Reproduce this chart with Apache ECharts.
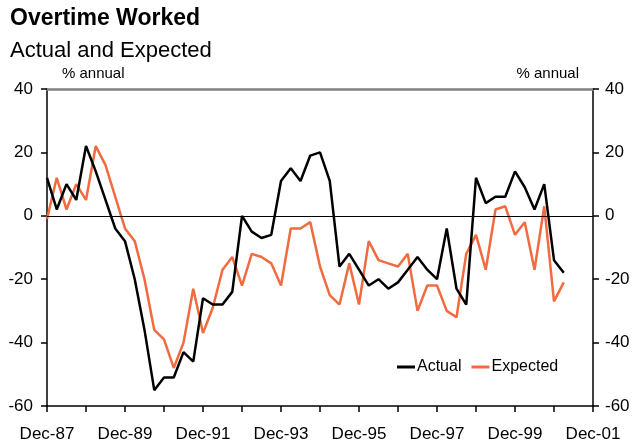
<!DOCTYPE html>
<html lang="en">
<head>
    <meta charset="UTF-8">
    <title>Overtime Worked</title>
    <script src="https://cdn.jsdelivr.net/npm/echarts@6/dist/echarts.min.js"></script>
    <style>
        html, body { margin: 0; padding: 0; background: #fff; }
        #main { width: 633px; height: 443px; }
    </style>
</head>
<body>
<div id="main"></div>
<script>
    // quarterly, Dec-87 .. Mar-01
    let actual = [12, 2, 10, 5, 22, 14, 5, -4, -8, -20, -36, -55, -51, -51, -43, -46, -26, -28, -28, -24,
        0, -5, -7, -6, 11, 15, 11, 19, 20, 11, -16, -12, -17, -22, -20, -23, -21, -17, -13, -17,
        -20, -4, -23, -28, 12, 4, 6, 6, 14, 9, 2, 10, -14, -18];
    let expected = [-1, 12, 2, 10, 5, 22, 16, 6, -4, -8, -20, -36, -39, -48, -40, -23, -37, -29, -17, -13,
        -22, -12, -13, -15, -22, -4, -4, -2, -16, -25, -28, -15, -28, -8, -14, -15, -16, -12, -30, -22,
        -22, -30, -32, -12, -6, -17, 2, 3, -6, -2, -17, 3, -27, -21];
    let firstYear = 1987, lastYear = 2001;
    let yTicks = [-60, -40, -20, 0, 20, 40];

    // category list: one entry per quarter from Dec of firstYear to Dec of lastYear
    let quarters = [];
    let mons = ['Dec', 'Mar', 'Jun', 'Sep'];
    for (let i = 0; i <= (lastYear - firstYear) * 4; i++) {
        let yr = firstYear + Math.ceil(i / 4);
        quarters.push(mons[i % 4] + '-' + String(yr % 100).padStart(2, '0'));
    }

    let myChart = echarts.init(document.getElementById('main'));
    let font = 'Arial, "Liberation Sans", sans-serif';

    let option = {
        animation: false,
        textStyle: {fontFamily: font},
        title: [
            {text: 'Overtime Worked', left: 5, top: 2, textStyle: {fontSize: 23, fontWeight: 'bold', color: '#000', fontFamily: font}},
            {text: 'Actual and Expected', left: 5, top: 35, textStyle: {fontSize: 22, fontWeight: 'normal', color: '#000', fontFamily: font}}
        ],
        graphic: [
            {type: 'text', left: 62, top: 66, style: {text: '% annual', fontSize: 15, fill: '#000', fontFamily: font}},
            {type: 'text', right: 54, top: 66, style: {text: '% annual', fontSize: 15, fill: '#000', fontFamily: font}}
        ],
        legend: {
            data: ['Actual', 'Expected'],
            left: 392, top: 354,
            itemWidth: 18, itemHeight: 3, itemGap: 10,
            icon: 'rect',
            textStyle: {fontSize: 16, color: '#000', fontFamily: font, padding: [0, 0, 0, -3]}
        },
        grid: {left: 47, right: 40, top: 89, height: 321},
        xAxis: [
            {
                type: 'category',
                data: quarters,
                boundaryGap: false,
                position: 'bottom',
                axisLine: {onZero: false, lineStyle: {color: '#000', width: 1.5}},
                axisTick: {length: 6, lineStyle: {color: '#000', width: 1.5}, interval: function (i) { return i % 4 === 0; }},
                axisLabel: {
                    interval: function (i) { return i % 8 === 0; },
                    color: '#000', fontSize: 17, margin: 20, fontFamily: font,
                    showMaxLabel: true
                },
                splitLine: {show: false}
            },
            {
                type: 'category',
                data: quarters,
                boundaryGap: false,
                position: 'top',
                axisLine: {onZero: false, lineStyle: {color: '#808080', width: 2.5}},
                axisTick: {show: false},
                axisLabel: {show: false}
            }
        ],
        yAxis: [
            {
                type: 'value', min: -60, max: 40, interval: 20, position: 'left',
                axisLine: {show: true, lineStyle: {color: '#000', width: 1.5}},
                axisTick: {show: true, length: 6, lineStyle: {color: '#000', width: 1.5}},
                axisLabel: {color: '#000', fontSize: 17, margin: 14, fontFamily: font,
                    formatter: function (v) { return yTicks.indexOf(v) >= 0 ? String(v) : ''; }},
                splitLine: {show: false}
            },
            {
                type: 'value', min: -60, max: 40, interval: 20, position: 'right',
                axisLine: {show: true, lineStyle: {color: '#000', width: 1.5}},
                axisTick: {show: true, length: 6, lineStyle: {color: '#000', width: 1.5}},
                axisLabel: {color: '#000', fontSize: 17, margin: 12, fontFamily: font},
                splitLine: {show: false}
            }
        ],
        series: [
            {
                name: 'Actual', type: 'line', data: actual,
                symbol: 'none', color: '#000',
                lineStyle: {color: '#000', width: 2.5},
                markLine: {
                    silent: true, symbol: 'none', label: {show: false},
                    lineStyle: {color: '#000', width: 1, type: 'solid'},
                    data: [{yAxis: 0}]
                },
                z: 3
            },
            {
                name: 'Expected', type: 'line', data: expected,
                symbol: 'none', color: '#f26a3f',
                lineStyle: {color: '#f26a3f', width: 2.5},
                z: 2
            }
        ]
    };

    myChart.setOption(option);
</script>
</body>
</html>
